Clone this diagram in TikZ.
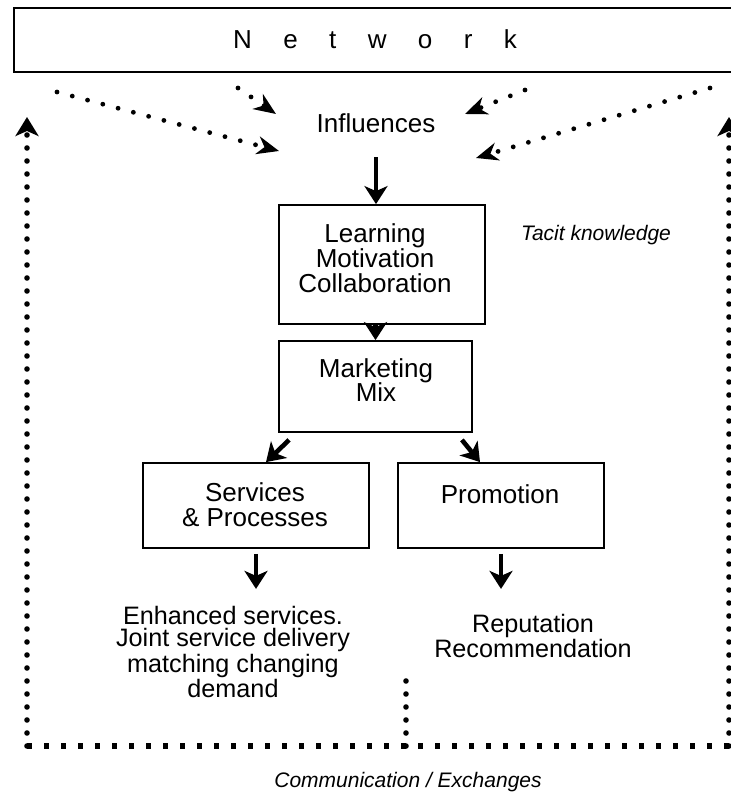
\documentclass[tikz,border=0pt]{standalone}
\usepackage{fontspec}
\setmainfont{Liberation Sans}
\usetikzlibrary{arrows.meta}
\begin{document}
\begin{tikzpicture}[x=0.5pt,y=-0.5pt,
  box/.style={draw, line width=0.9pt, inner sep=0pt},
  lbl/.style={align=center, font=\fontsize{13}{12.4}\selectfont, inner sep=0pt},
  outcome/.style={align=center, font=\fontsize{12.6}{11.2}\selectfont, inner sep=0pt},
  note/.style={font=\fontsize{10.5}{12}\selectfont\itshape, inner sep=0pt},
  bigarrow/.style={line width=2.3pt, -{Stealth[length=9pt,width=11.5pt,inset=2.5pt]}},
  inflarrow/.style={line width=2.4pt, dash pattern=on 0pt off 7.9pt, line cap=round,
    -{Stealth[length=11pt,width=9pt,inset=3.5pt]}},
  retline/.style={line width=2.8pt, dash pattern=on 0pt off 6.5pt, line cap=round},
  retarrow/.style={retline, -{Stealth[length=9.5pt,width=11.5pt,inset=2.5pt]}},
  baseline/.style={line width=2.6pt, dash pattern=on 2.6pt off 5.9pt},
]
\useasboundingbox (0,0) rectangle (730,792);
\fill[white] (0,0) rectangle (730,792);

% network bar, running off the right edge
\node[box, minimum width=366pt, minimum height=32pt, anchor=north west] (net) at (13,7) {};
\node[lbl] (nettext) at (375,39) {{\spaceskip=15.7pt N e t w o r k}};

% influences
\node[lbl] (infl) at (376,123) {Influences};

% main boxes
\node[box, minimum width=103pt, minimum height=59.5pt] (learn) at (382,264.5) {};
\node[lbl] (learntext) at (375,258) {Learning\\Motivation\\Collaboration};
\node[note] (tacit) at (596,235) {Tacit knowledge};

\node[box, minimum width=96.5pt, minimum height=45.5pt] (mix) at (375.5,386.5) {};
\node[lbl] (mixtext) at (376,380) {Marketing\\Mix};

\node[box, minimum width=113pt, minimum height=42.5pt] (serv) at (256,505.5) {};
\node[lbl] (servtext) at (255,505) {Services\\\&~Processes};

\node[box, minimum width=103pt, minimum height=42.5pt] (promo) at (501,505.5) {};
\node[lbl] (promotext) at (500,494) {Promotion};

% outcomes
\node[outcome] (enh) at (233,652)
  {Enhanced services.\\Joint service delivery\\matching changing\\demand};
\node[outcome] (rep) at (533,636)
  {Reputation\\Recommendation};

\node[note] (comm) at (408,782) {Communication / Exchanges};

% network influences
\coordinate (n1) at (57,92);
\coordinate (n2) at (238,88);
\coordinate (n3) at (525,90);
\coordinate (n4) at (710,88);
\coordinate (i1) at (279,151);
\coordinate (i2) at (276,114);
\coordinate (i3) at (465,114);
\coordinate (i4) at (476,158);
\draw[inflarrow] (n1) -- (i1);
\draw[inflarrow] (n2) -- (i2);
\draw[inflarrow] (n3) -- (i3);
\draw[inflarrow] (n4) -- (i4);

% main flow
\draw[bigarrow] ([yshift=-17pt]infl.center) -- (infl.center |- learn.north);
\draw[bigarrow] (mix.north |- learn.south) -- (mix.north);
\draw[bigarrow] ([shift={(5.5pt,-3.5pt)}]mix.south west) -- ([xshift=5pt]serv.north);
\draw[bigarrow] ([shift={(-5.5pt,-3.5pt)}]mix.south east) -- ([xshift=-10.5pt]promo.north);
\draw[bigarrow] ([yshift=-2.5pt]serv.south) -- ++(0,35);
\draw[bigarrow] ([yshift=-2.5pt]promo.south) -- ++(0,35);

% communication / exchange loop
\coordinate (bl) at (27,746);
\coordinate (br) at (729,746);
\coordinate (bm) at (406,746);
\coordinate (mt) at (406,678);
\coordinate (lt) at (27,117);
\coordinate (rt) at (729,117);
\draw[baseline] (bl) -- (br);
\draw[retarrow] (bl) -- (lt);
\draw[retarrow] (br) -- (rt);
\draw[retline] (bm) -- (mt);
\end{tikzpicture}
\end{document}
